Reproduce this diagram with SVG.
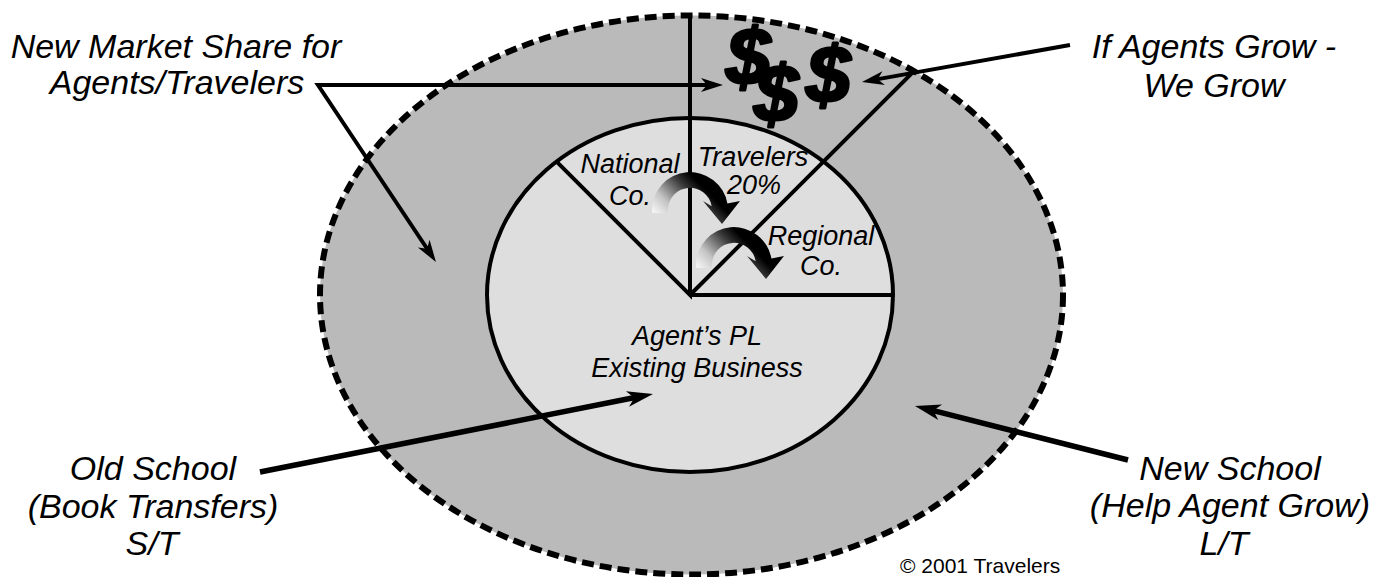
<svg xmlns="http://www.w3.org/2000/svg" xmlns:xlink="http://www.w3.org/1999/xlink" width="1387" height="577" viewBox="0 0 1387 577">
  <style>
    .lbl { font-family: "Liberation Sans", Arial, sans-serif; font-style: italic; font-size: 34px; fill: #000; text-anchor: middle; }
    .inner { font-family: "Liberation Sans", Arial, sans-serif; font-style: italic; font-size: 27px; fill: #000; text-anchor: middle; }
    .dollar { font-family: "Liberation Sans", Arial, sans-serif; font-style: italic; font-weight: bold; font-size: 80px; fill: #000; stroke: #000; stroke-width: 3; stroke-linejoin: round; }
    .copy { font-family: "Liberation Sans", Arial, sans-serif; font-size: 21px; fill: #000; }
    .edge { fill: none; stroke: #000; stroke-width: 4; stroke-linejoin: miter; }
    .edge-thick { fill: none; stroke: #000; stroke-width: 5.5; }
    .divider { fill: none; stroke: #000; stroke-width: 4; stroke-linecap: butt; }
  </style>
  <defs>
    <marker id="head" markerUnits="userSpaceOnUse" viewBox="-24 -9 26 18" markerWidth="26" markerHeight="18" refX="-12" refY="0" orient="auto-start-reverse">
      <path d="M0,0 L-22,-7 L-16,0 L-22,7 Z" fill="#000"/>
    </marker>
    <marker id="head-lg" markerUnits="userSpaceOnUse" viewBox="-28 -10 30 20" markerWidth="30" markerHeight="20" refX="-12" refY="0" orient="auto">
      <path d="M0,0 L-26,-8 L-19,0 L-26,8 Z" fill="#000"/>
    </marker>
    <linearGradient id="swoosh" gradientUnits="userSpaceOnUse" x1="655" y1="212" x2="692" y2="176">
      <stop offset="0" stop-color="#f2f2f2"/>
      <stop offset="0.3" stop-color="#c4c4c4"/>
      <stop offset="0.75" stop-color="#3a3a3a"/>
      <stop offset="1" stop-color="#000"/>
    </linearGradient>
    <!-- curved shift arrow, tail bottom-left, head pointing down on the right -->
    <path id="shift-arrow" d="M652,213 L652,210 A38,38 0 0 1 727.4,203.4 L740,201 L722,224 L703,201 L711.7,206.2 A22,22 0 0 0 668,210 L668,213 Z" fill="url(#swoosh)"/>
  </defs>

  <!-- outer market ring -->
  <g id="market">
    <ellipse cx="691.5" cy="295" rx="371.5" ry="279.5" fill="#bababa" stroke="#000" stroke-width="6" stroke-dasharray="12 6"/>
  </g>

  <!-- agent's existing book as a pie -->
  <g id="agent-book">
    <ellipse cx="690" cy="295" rx="203" ry="177" fill="#dedede" stroke="#000" stroke-width="4"/>
    <path class="divider" d="M556.6,161.6 L690,295 L690,15"/>
    <path class="divider" d="M690,295 L913.7,71.3"/>
    <path class="divider" d="M690,295 L893,295"/>
  </g>

  <g id="dollars">
    <text class="dollar" x="726" y="84">$</text>
    <text class="dollar" x="754" y="121">$</text>
    <text class="dollar" x="806" y="102">$</text>
  </g>

  <g id="segment-national">
    <text class="inner" x="630" y="173">National</text>
    <text class="inner" x="630" y="205">Co.</text>
  </g>
  <g id="segment-travelers">
    <text class="inner" x="753" y="166">Travelers</text>
    <text class="inner" x="754" y="194">20%</text>
  </g>
  <g id="segment-regional">
    <text class="inner" x="821" y="245">Regional</text>
    <text class="inner" x="821" y="275">Co.</text>
  </g>
  <g id="segment-agent">
    <text class="inner" x="697" y="345">Agent’s PL</text>
    <text class="inner" x="697" y="377">Existing Business</text>
  </g>

  <g id="shifts">
    <use xlink:href="#shift-arrow"/>
    <use xlink:href="#shift-arrow" transform="translate(44,55)"/>
  </g>

  <g id="label-new-market">
    <text class="lbl" x="176" y="58">New Market Share for</text>
    <text class="lbl" x="177" y="94">Agents/Travelers</text>
  </g>
  <g id="label-agents-grow">
    <text class="lbl" x="1214" y="58">If Agents Grow -</text>
    <text class="lbl" x="1214" y="97">We Grow</text>
  </g>
  <g id="label-old-school">
    <text class="lbl" x="153" y="480">Old School</text>
    <text class="lbl" x="153" y="518">(Book Transfers)</text>
    <text class="lbl" x="152" y="555">S/T</text>
  </g>
  <g id="label-new-school">
    <text class="lbl" x="1230" y="480">New School</text>
    <text class="lbl" x="1230" y="517">(Help Agent Grow)</text>
    <text class="lbl" x="1224" y="555">L/T</text>
  </g>

  <text class="copy" x="900" y="573">© 2001 Travelers</text>

  <!-- label connectors -->
  <g id="connectors">
    <path class="edge" d="M429.3,252 L318,85 L711,85" marker-start="url(#head)" marker-end="url(#head)"/>
    <path class="edge" d="M1070,45 L873.8,79.9" marker-end="url(#head)"/>
    <path class="edge-thick" d="M260,472 L641.2,396.3" marker-end="url(#head-lg)"/>
    <path class="edge-thick" d="M1128,460 L926.6,408.9" marker-end="url(#head-lg)"/>
  </g>
</svg>
